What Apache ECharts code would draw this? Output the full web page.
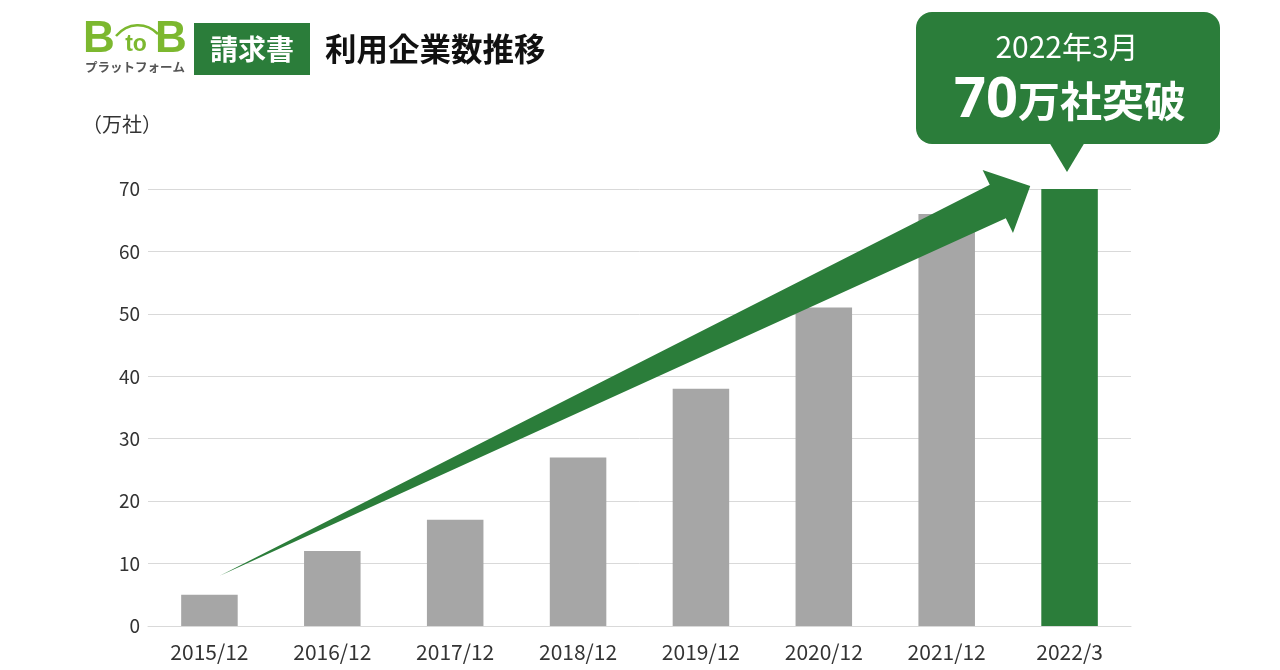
<!DOCTYPE html>
<html><head><meta charset="utf-8">
<script src="https://cdn.jsdelivr.net/npm/echarts@6/dist/echarts.min.js"></script>
<style>html,body{margin:0;padding:0;background:#fff}#c{width:1280px;height:670px}</style>
</head><body><div id="c"></div>
<script>
const categories = ['2015/12','2016/12','2017/12','2018/12','2019/12','2020/12','2021/12','2022/3'];
const values = [5, 12, 17, 27, 38, 51, 66, 70];
const yTicks = [0, 10, 20, 30, 40, 50, 60, 70];
const unitLabel = '（万社）';
const titleText = '利用企業数推移';
const badgeText = '請求書';
const calloutLine1 = '2022年3月';
const calloutNum = '70';
const calloutRest = '万社突破';

const GREEN = '#2b7d3a';
const GRAY = '#a6a6a6';
const LIME = '#7cb82f';
const FONT = '"Noto Sans CJK JP", "Noto Sans", sans-serif';
const LAT = '"Liberation Sans", Arial, sans-serif';

const chart = echarts.init(document.getElementById('c'), null, {renderer: 'canvas'});

const option = {
  animation: false,
  backgroundColor: '#fff',
  grid: {left: 148, right: 149, top: 189, bottom: 44},
  xAxis: {
    type: 'category', data: categories,
    axisLine: {lineStyle: {color: '#d9d9d9', width: 1}},
    axisTick: {show: false},
    axisLabel: {color: '#333', fontSize: 21, fontFamily: FONT, margin: 16}
  },
  yAxis: {
    type: 'value', min: yTicks[0], max: yTicks[yTicks.length - 1], interval: yTicks[1] - yTicks[0],
    axisLine: {show: false}, axisTick: {show: false},
    splitLine: {lineStyle: {color: '#d9d9d9', width: 1}},
    axisLabel: {color: '#333', fontSize: 19, fontFamily: FONT, margin: 8}
  },
  series: [{
    type: 'bar', barWidth: '46%',
    data: values.map((v, i) => ({value: v, itemStyle: {color: i === values.length - 1 ? GREEN : GRAY}}))
  }],
  graphic: []
};
chart.setOption(option);

// arrow in data space (category index, value)
const arrowTail = [0.08, 8];
const arrowTip = [6.68, 70.5];
function toPx(p) {
  const a = chart.convertToPixel({gridIndex: 0}, [0, p[1]]);
  const b = chart.convertToPixel({gridIndex: 0}, [1, p[1]]);
  return [a[0] + (b[0] - a[0]) * p[0], a[1]];
}
const T = toPx(arrowTail), P = toPx(arrowTip);
const dx = P[0] - T[0], dy = P[1] - T[1];
const L = Math.hypot(dx, dy);
const ux = dx / L, uy = dy / L, nx = -uy, ny = ux;
const headLen = 36, headHalf = 35, shaftHalf = 18.5;
const B = [P[0] - ux * headLen, P[1] - uy * headLen];
const arrowPts = [
  T,
  [B[0] + nx * shaftHalf, B[1] + ny * shaftHalf],
  [B[0] + nx * headHalf, B[1] + ny * headHalf],
  P,
  [B[0] - nx * headHalf, B[1] - ny * headHalf],
  [B[0] - nx * shaftHalf, B[1] - ny * shaftHalf]
];

const graphics = [
  {type: 'polygon', shape: {points: arrowPts}, style: {fill: GREEN}, z: 10},
  // unit label
  {type: 'text', left: 82, top: 114, style: {text: unitLabel, fontSize: 20, fontFamily: FONT, fill: '#333'}},
  // logo
  {type: 'text', x: 99, y: 40, style: {text: 'B', fontSize: 44, fontWeight: 'bold', fontFamily: LAT, fill: LIME, align: 'center', verticalAlign: 'middle'}},
  {type: 'text', x: 136, y: 45, style: {text: 'to', fontSize: 23, fontWeight: 'bold', fontFamily: LAT, fill: LIME, align: 'center', verticalAlign: 'middle'}},
  {type: 'text', x: 171, y: 40, style: {text: 'B', fontSize: 44, fontWeight: 'bold', fontFamily: LAT, fill: LIME, align: 'center', verticalAlign: 'middle'}},
  {type: 'bezierCurve', shape: {x1: 116, y1: 36, cpx1: 128, cpy1: 22, cpx2: 146, cpy2: 22, x2: 158, y2: 34}, style: {stroke: LIME, lineWidth: 2.5, fill: null}},
  {type: 'text', x: 135, y: 67, style: {text: 'プラットフォーム', fontSize: 12.5, fontWeight: 'bold', fontFamily: FONT, fill: '#555', align: 'center', verticalAlign: 'middle'}},
  // badge
  {type: 'rect', shape: {x: 194, y: 23, width: 116, height: 52}, style: {fill: GREEN}},
  {type: 'text', x: 252, y: 49, style: {text: badgeText, fontSize: 28, fontWeight: 'bold', fontFamily: FONT, fill: '#fff', align: 'center', verticalAlign: 'middle'}},
  // title
  {type: 'text', x: 325, y: 49, style: {text: titleText, fontSize: 31.5, fontWeight: 'bold', fontFamily: FONT, fill: '#111', align: 'left', verticalAlign: 'middle'}},
  // callout
  {type: 'rect', shape: {x: 916, y: 12, width: 304, height: 132, r: 16}, style: {fill: GREEN}},
  {type: 'polygon', shape: {points: [[1049, 142], [1085, 142], [1067, 172]]}, style: {fill: GREEN}},
  {type: 'text', x: 1067, y: 47, style: {text: calloutLine1, fontSize: 30, fontFamily: FONT, fill: '#fff', align: 'center', verticalAlign: 'middle'}},
  {type: 'text', x: 1070, y: 101, style: {
    text: '{a|' + calloutNum + '}{b|' + calloutRest + '}', align: 'center', verticalAlign: 'middle',
    rich: {
      a: {fontSize: 56, fontWeight: 'bold', fontFamily: '"Noto Sans", "Liberation Sans", sans-serif', fill: '#fff', color: '#fff'},
      b: {fontSize: 42, fontWeight: 'bold', fontFamily: FONT, fill: '#fff', color: '#fff'}
    }
  }}
];
chart.setOption({graphic: graphics});
</script>
</body></html>
